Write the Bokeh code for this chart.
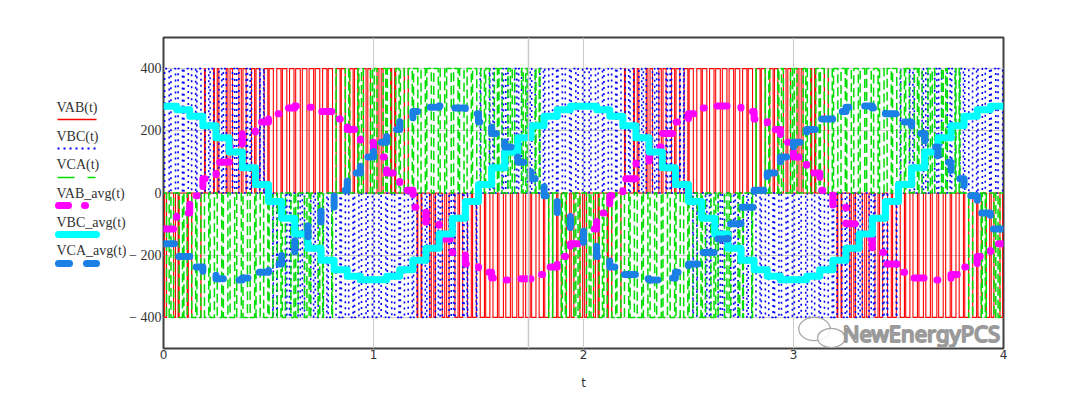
import numpy as np
from bokeh.plotting import figure
from bokeh.models import Range1d, FixedTicker, Span, Label
from bokeh.layouts import row
from bokeh.embed import file_html
from bokeh.resources import INLINE
from bokeh.core.properties import value

# ---------------- data ----------------
T_STEP = 0.0625          # length of one averaging (switching) period on the t axis
VDC = 400                # PWM level

vab_avg = [-116, -64, -9, 46, 99, 148, 191, 228, 255, 273, 280, 276, 262, 238, 204, 163,
           116, 64, 9, -46, -99, -148, -191, -228, -255, -273, -280, -276, -262, -238, -204, -163,
           -116, -64, -9, 46, 99, 148, 191, 228, 255, 273, 280, 276, 262, 238, 204, 163,
           116, 64, 9, -46, -99, -148, -191, -228, -255, -273, -280, -276, -262, -238, -204, -163]
vbc_avg = [279, 268, 247, 216, 178, 132, 81, 27, -27, -81, -132, -178, -216, -247, -268, -279,
           -279, -268, -247, -216, -178, -132, -81, -27, 27, 81, 132, 178, 216, 247, 268, 279,
           279, 268, 247, 216, 178, 132, 81, 27, -27, -81, -132, -178, -216, -247, -268, -279,
           -279, -268, -247, -216, -178, -132, -81, -27, 27, 81, 132, 178, 216, 247, 268, 279]
vca_avg = [-163, -204, -238, -262, -276, -280, -273, -255, -228, -191, -148, -99, -46, 9, 64, 116,
           163, 204, 238, 262, 276, 280, 273, 255, 228, 191, 148, 99, 46, -9, -64, -116,
           -163, -204, -238, -262, -276, -280, -273, -255, -228, -191, -148, -99, -46, 9, 64, 116,
           163, 204, 238, 262, 276, 280, 273, 255, 228, 191, 148, 99, 46, -9, -64, -116]

y_ticks = [-400, -200, 0, 200, 400]
y_tick_labels = ["\u2212 400", "\u2212 200", "0", "200", "400"]
x_ticks = [0, 1, 2, 3, 4]
x_tick_labels = ["0", "1", "2", "3", "4"]
legend_names = ["VAB(t)", "VBC(t)", "VCA(t)", "VAB_avg(t)", "VBC_avg(t)", "VCA_avg(t)"]

# ---------------- PWM waveforms derived from the averaged values ----------------
def build_pwm():
    xs, yab, ybc, yca = [], [], [], []
    for k in range(len(vab_avg)):
        t0 = k * T_STEP
        va = (vab_avg[k] - vca_avg[k]) / 3.0
        vb = (vbc_avg[k] - vab_avg[k]) / 3.0
        vc = (vca_avg[k] - vbc_avg[k]) / 3.0
        duties = [0.5 + va / VDC, 0.5 + vb / VDC, 0.5 + vc / VDC]
        edges = {t0, t0 + T_STEP}
        for d in duties:
            edges.add(t0 + (1 - d) * T_STEP / 2)
            edges.add(t0 + (1 + d) * T_STEP / 2)
        edges = sorted(edges)
        mid = t0 + T_STEP / 2
        for a, b in zip(edges[:-1], edges[1:]):
            if b - a < 1e-9:
                continue
            m = (a + b) / 2
            A, B, C = [1 if abs(m - mid) < d * T_STEP / 2 else 0 for d in duties]
            xs += [a, b]
            yab += [VDC * (A - B)] * 2
            ybc += [VDC * (B - C)] * 2
            yca += [VDC * (C - A)] * 2
    return xs, yab, ybc, yca

pw_x, pw_ab, pw_bc, pw_ca = build_pwm()

# ---------------- styles ----------------
C_AB = "#ff0000"
C_BC = "#0000ff"
C_CA = "#00dd00"
C_AB_AVG = "#ff00ff"
C_BC_AVG = "#00ffff"
C_CA_AVG = "#1a80e6"

# ---------------- main figure ----------------
p = figure(width=946, height=393, x_range=Range1d(0, 4), y_range=Range1d(-500, 500),
           output_backend="svg", toolbar_location=None,
           min_border_left=37, min_border_right=69, min_border_top=37, min_border_bottom=45)
p.background_fill_color = "white"
p.border_fill_color = "white"
p.outline_line_color = "#404040"
p.outline_line_width = 2

p.line(pw_x, pw_ab, line_color=C_AB, line_width=1.1)
p.line(pw_x, pw_bc, line_color=C_BC, line_width=1.6, line_dash="2 4")
p.line(pw_x, pw_ca, line_color=C_CA, line_width=1.5, line_dash="9 4")

tk = [k * T_STEP for k in range(len(vab_avg))] + [len(vab_avg) * T_STEP]
p.step(tk, vab_avg + [vab_avg[-1]], mode="after", line_color=C_AB_AVG, line_width=7,
       line_dash="10 15 1 15", line_cap="round", line_join="round")
p.step(tk, vbc_avg + [vbc_avg[-1]], mode="after", line_color=C_BC_AVG, line_width=7,
       line_join="round")
p.step(tk, vca_avg + [vca_avg[-1]], mode="after", line_color=C_CA_AVG, line_width=7,
       line_dash="11 17", line_cap="round", line_join="round")

p.add_layout(Span(location=1.738, dimension="height", line_color="#c8c8c8", line_width=1.5))

p.yaxis.ticker = FixedTicker(ticks=y_ticks)
p.yaxis.major_label_overrides = {t: s for t, s in zip(y_ticks, y_tick_labels)}
p.xaxis.ticker = FixedTicker(ticks=x_ticks)
p.xaxis.major_label_overrides = {t: s for t, s in zip(x_ticks, x_tick_labels)}
p.xaxis.axis_label = "t"
for ax in (p.xaxis, p.yaxis):
    ax.axis_line_color = None
    ax.major_tick_line_color = None
    ax.minor_tick_line_color = None
    ax.major_tick_out = 0
    ax.major_tick_in = 0
    ax.minor_tick_out = 0
    ax.major_label_text_color = "#333333"
p.yaxis.major_label_text_font = "Liberation Serif"
p.yaxis.major_label_text_font_size = "14px"
p.yaxis.major_label_standoff = 2
p.xaxis.major_label_text_font = "DejaVu Sans"
p.xaxis.major_label_text_font_size = "12px"
p.xaxis.major_label_standoff = 1
p.xaxis.axis_label_text_font = "DejaVu Sans"
p.xaxis.axis_label_text_font_size = "12px"
p.xaxis.axis_label_text_font_style = "normal"
p.xaxis.axis_label_text_color = "#333333"
p.xaxis.axis_label_standoff = 14
p.xgrid.grid_line_color = "#cccccc"
p.ygrid.grid_line_color = "#cccccc"

# watermark (kept inside the frame)
p.ellipse(x=[3.10, 3.18], y=[-437, -466], width=[0.15, 0.13], height=[75, 62],
          fill_color="white", fill_alpha=0.85, line_color="#a8a8a8", line_width=1.3)
p.add_layout(Label(x=3.235, y=-498, text="NewEnergyPCS", text_font="Noto Sans",
                   text_font_size="22px", text_color="white", text_outline_color="#9a9a9a",
                   text_baseline="bottom", text_align="left"))

# ---------------- legend figure (its frame is aligned with the main frame) ----------------
lg = figure(width=126, height=393, x_range=Range1d(0, 126), y_range=Range1d(348, 37),
            output_backend="svg", toolbar_location=None,
            x_axis_location=None, y_axis_location=None,
            min_border_left=0, min_border_right=0, min_border_top=37, min_border_bottom=45)
lg.grid.visible = False
lg.outline_line_color = None

text_y = [107, 136, 164, 193, 222, 250]
lg.text(x=[56] * 6, y=text_y, text=legend_names, text_font=value("Liberation Serif"),
        text_font_size="14px", text_color="#333333", text_baseline="middle")
sy = [119, 148, 177, 205, 234, 263]
lg.line([57, 96], [sy[0], sy[0]], line_color=C_AB, line_width=1.5)
lg.line([57, 95], [sy[1], sy[1]], line_color=C_BC, line_width=2, line_dash="2 4")
lg.line([57, 95], [sy[2], sy[2]], line_color=C_CA, line_width=1.5, line_dash="17 13")
lg.line([58, 86], [sy[3], sy[3]], line_color=C_AB_AVG, line_width=7, line_dash="10 16 1 16",
        line_cap="round")
lg.line([58, 96], [sy[4], sy[4]], line_color=C_BC_AVG, line_width=7, line_cap="round")
lg.line([58, 96], [sy[5], sy[5]], line_color=C_CA_AVG, line_width=7, line_dash="11 17",
        line_cap="round")

layout = row(lg, p)
open("out.html", "w").write(file_html(layout, INLINE))
